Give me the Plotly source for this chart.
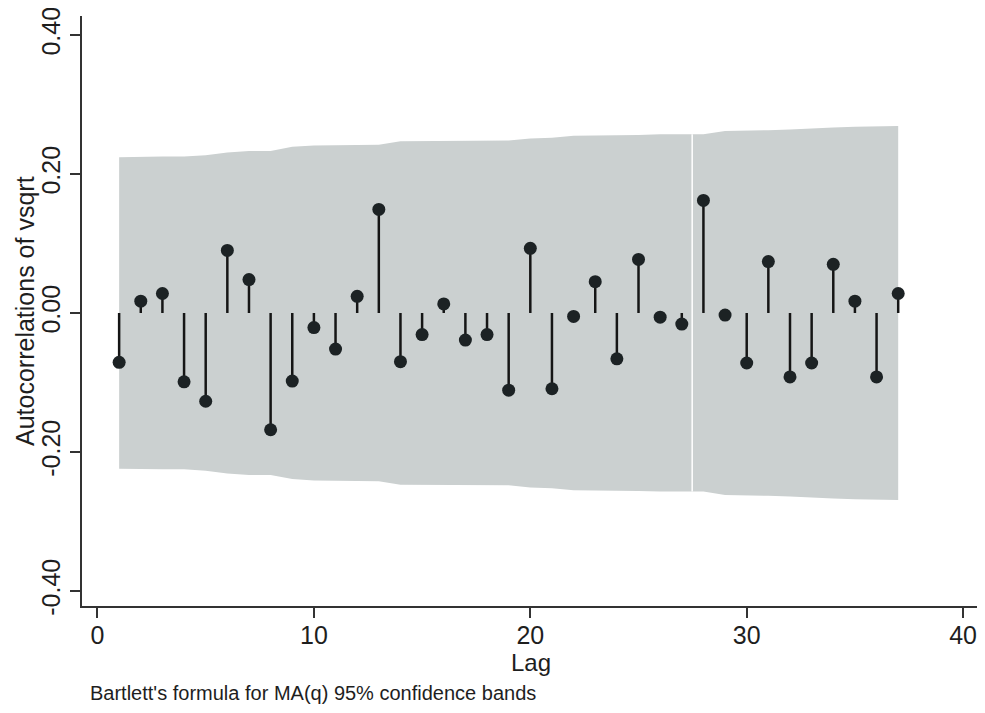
import plotly.graph_objects as go

lags = list(range(1, 38))
acf = [-0.071, 0.017, 0.028, -0.099, -0.127, 0.090, 0.048, -0.168, -0.098, -0.021,
       -0.052, 0.024, 0.149, -0.070, -0.031, 0.013, -0.039, -0.031, -0.111, 0.093,
       -0.109, -0.005, 0.045, -0.066, 0.077, -0.006, -0.016, 0.162, -0.003, -0.072,
       0.074, -0.092, -0.072, 0.070, 0.017, -0.092, 0.028]
band_upper = [0.224, 0.225, 0.225, 0.225, 0.227, 0.231, 0.233, 0.233, 0.239, 0.241,
              0.241, 0.242, 0.242, 0.247, 0.247, 0.248, 0.248, 0.248, 0.248, 0.251,
              0.252, 0.255, 0.255, 0.255, 0.256, 0.257, 0.257, 0.257, 0.262, 0.262,
              0.263, 0.264, 0.266, 0.267, 0.268, 0.268, 0.269]
band_lower = [-b for b in band_upper]

x_ticks = [0, 10, 20, 30, 40]
y_ticks = [-0.4, -0.2, 0.0, 0.2, 0.4]
y_ticktext = ["-0.40", "-0.20", "0.00", "0.20", "0.40"]

FONT = "Liberation Sans, Arial, sans-serif"
TXT = "#1e1e1e"

fig = go.Figure()

# confidence band
fig.add_trace(go.Scatter(x=lags, y=band_lower, mode="lines", line=dict(width=0),
                         hoverinfo="skip", showlegend=False))
fig.add_trace(go.Scatter(x=lags, y=band_upper, mode="lines", line=dict(width=0),
                         fill="tonexty", fillcolor="#cbd0d0",
                         hoverinfo="skip", showlegend=False))

# scan artifact: thin white vertical line through band
art_x = 27.48
i = 26
art_h = band_upper[i] + (band_upper[i + 1] - band_upper[i]) * (art_x - lags[i])
fig.add_trace(go.Scatter(x=[art_x, art_x], y=[-art_h, art_h], mode="lines",
                         line=dict(color="white", width=1.5),
                         hoverinfo="skip", showlegend=False))

# stems
sx, sy = [], []
for l, v in zip(lags, acf):
    sx += [l, l, None]
    sy += [0, v, None]
fig.add_trace(go.Scatter(x=sx, y=sy, mode="lines", line=dict(color="#151515", width=2.5),
                         hoverinfo="skip", showlegend=False))

# markers
fig.add_trace(go.Scatter(x=lags, y=acf, mode="markers",
                         marker=dict(size=13, color="#1c2224", line=dict(width=0)),
                         showlegend=False))

fig.add_annotation(text="Bartlett's formula for MA(q) 95% confidence bands",
                   xref="paper", yref="paper", x=0.0067, y=-0.147,
                   xanchor="left", yanchor="middle", showarrow=False,
                   font=dict(family=FONT, size=20, color=TXT))
fig.add_annotation(text="Lag", xref="paper", yref="paper", x=0.5, y=-0.096,
                   xanchor="center", yanchor="middle", showarrow=False,
                   font=dict(family=FONT, size=24, color=TXT))
fig.add_annotation(text="Autocorrelations of vsqrt", xref="paper", yref="paper",
                   x=-0.0635, y=0.5, textangle=-90, xanchor="center", yanchor="middle",
                   showarrow=False, font=dict(family=FONT, size=25, color=TXT))

fig.update_layout(
    width=977, height=705,
    margin=dict(l=74, r=5, t=8, b=107),
    paper_bgcolor="white", plot_bgcolor="white",
    font=dict(family=FONT, color=TXT),
    xaxis=dict(range=[-0.716, 40.78], tickvals=x_ticks, ticks="outside", ticklen=10,
               tickwidth=1.5, tickcolor="#333", showline=True, linecolor="#333",
               linewidth=2, showgrid=False, zeroline=False, automargin=False,
               ticklabelstandoff=-4, ticklabeloverflow="allow",
               tickfont=dict(size=25, family=FONT, color=TXT)),
    yaxis=dict(range=[-0.4216, 0.4273], tickvals=y_ticks, ticktext=y_ticktext,
               tickangle=-90, ticks="outside", ticklen=10, tickwidth=1.5, tickcolor="#333",
               showline=True, linecolor="#333", linewidth=2, showgrid=False, zeroline=False,
               automargin=False, ticklabeloverflow="allow",
               tickfont=dict(size=25, family=FONT, color=TXT)),
)

fig.write_html("out.html")
